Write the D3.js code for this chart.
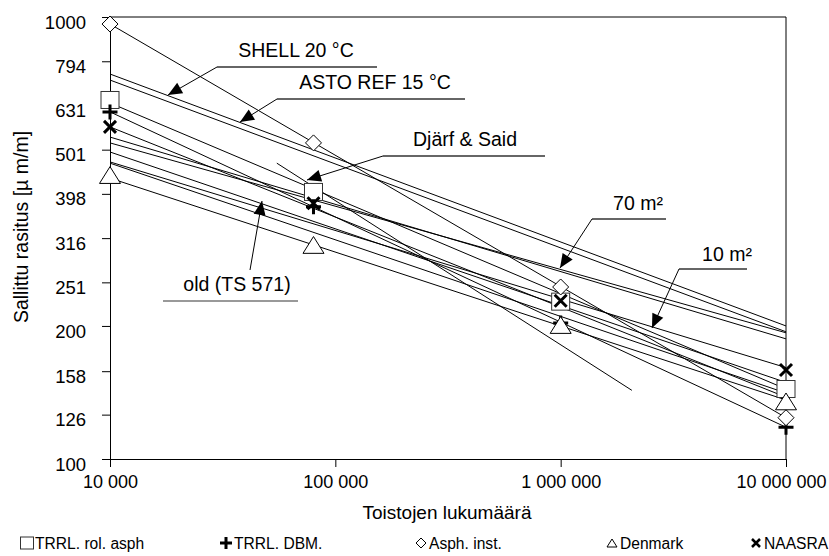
<!DOCTYPE html>
<html>
<head>
<meta charset="utf-8">
<script src="https://cdn.jsdelivr.net/npm/d3@7"></script>
<style>
  body { margin: 0; background: #fff; }
  svg { display: block; font-family: 'Liberation Sans', Arial, sans-serif; }
  .axis text { font-size: 18.5px; fill: #000; }
  .axis path, .axis line { stroke: #000; }
</style>
</head>
<body>
<svg></svg>
<script>
var width = 829;
var height = 556;

// axis ticks
var yTicks = [100, 126, 158, 200, 251, 316, 398, 501, 631, 794, 1000];
var xTicks = [1e4, 1e5, 1e6, 1e7];

// measured points, N = toistojen lukumäärä
var pointN = [10000, 80000, 1000000, 10000000];
var trrlRol = [649, 402, 227, 144];
var trrlDbm = [610, 372, 203, 118];
var asphInst = [964, 519, 245, 124];
var denmark = [439, 305, 201, 135];
var naasra = [564, 379, 228, 159];

// criteria lines [N, strain] start and end
var shell20 = [[1e4, 743], [1e7, 200]];
var astoRef15 = [[1e4, 720], [1e7, 194]];
var m70 = [[1e4, 519], [1e7, 193]];
var lineA = [[1e4, 535], [1e7, 187]];
var m10 = [[1e4, 470], [1e7, 161]];
var oldTs571 = [[1e4, 495], [1e7, 149]];
var lineB = [[1e4, 467], [1e7, 141]];
var fitRol = [[1e4, 639], [1e7, 144]];
var fitDbm = [[1e4, 610], [1e7, 118]];
var fitNaasra = [[1e4, 564], [1e7, 138]];
var fitDenmark = [[1e4, 432], [1e7, 136]];
var fitAsph = [[1e4, 964], [1e7, 124]];
var djarfSaid = [[55000, 467], [2070000, 143]];

var allLines = [shell20, astoRef15, m70, lineA, m10, oldTs571, lineB,
                fitRol, fitDbm, fitNaasra, fitDenmark, fitAsph, djarfSaid];

var plotLeft = 110, plotRight = 786, plotTop = 17, plotBottom = 459;

var svg = d3.select('svg')
            .attr('width', width)
            .attr('height', height);

var xScale = d3.scaleLog().domain([1e4, 1e7]).range([plotLeft, plotRight]);
var yScale = d3.scaleLog().domain([100, 1000]).range([plotBottom, plotTop]);

var fmt = d3.formatLocale({decimal: ',', thousands: ' ', grouping: [3], currency: ['', '']}).format(',');

// frame top and right
svg.append('line')
  .attr('x1', plotLeft).attr('x2', plotRight).attr('y1', plotTop).attr('y2', plotTop)
  .attr('stroke', '#000');
svg.append('line')
  .attr('x1', plotRight).attr('x2', plotRight).attr('y1', plotTop).attr('y2', plotBottom)
  .attr('stroke', '#000');

var yAxis = d3.axisLeft(yScale)
              .tickValues(yTicks)
              .tickFormat(d => d)
              .tickSize(8)
              .tickSizeOuter(0)
              .tickPadding(16);
var xAxis = d3.axisBottom(xScale)
              .tickValues(xTicks)
              .tickFormat(d => fmt(d))
              .tickSize(8)
              .tickSizeOuter(0)
              .tickPadding(8);

svg.append('g')
    .classed('axis', true)
    .attr('transform', `translate(${plotLeft}, 0)`)
    .call(yAxis)
    .selectAll('text').attr('dy', '0.6em');
var xg = svg.append('g')
    .classed('axis', true)
    .attr('transform', `translate(0, ${plotBottom})`)
    .call(xAxis);
// keep the last label inside the window
xg.selectAll('text')
  .style('font-size', '18px')
  .filter(d => d === 1e7)
  .attr('dx', -5);

// lines
var line = d3.line()
             .x(d => xScale(d[0]))
             .y(d => yScale(d[1]));
svg.append('g')
  .selectAll('path')
  .data(allLines)
  .enter()
  .append('path')
    .attr('d', line)
    .attr('fill', 'none')
    .attr('stroke', '#000')
    .attr('stroke-width', 1);

// annotations: text, underline, leader with arrow
var notes = [
  {text: 'SHELL 20 °C', tx: 296, ty: 57, ux1: 217, ux2: 377, uy: 67, lx: 217, ly: 67, ax: 168, ay: 95, ul: '#333'},
  {text: 'ASTO REF 15 °C', tx: 375, ty: 89, ux1: 277, ux2: 465, uy: 99, lx: 277, ly: 99, ax: 240, ay: 122, ul: '#333'},
  {text: 'Djärf & Said', tx: 465, ty: 146, ux1: 383, ux2: 545, uy: 156, lx: 383, ly: 156, ax: 307, ay: 180, ul: '#333'},
  {text: '70 m²', tx: 638, ty: 210, ux1: 592, ux2: 666, uy: 219, lx: 592, ly: 219, ax: 560, ay: 268, ul: '#333'},
  {text: '10 m²', tx: 727, ty: 261, ux1: 679, ux2: 747, uy: 269, lx: 679, ly: 269, ax: 652, ay: 328, ul: '#333'},
  {text: 'old (TS 571)', tx: 237, ty: 291, ux1: 163, ux2: 298, uy: 301, lx: 250, ly: 270, ax: 262, ay: 201, ul: '#777'}
];

var noteG = svg.append('g');
notes.forEach(n => {
  noteG.append('text')
    .attr('x', n.tx).attr('y', n.ty)
    .attr('text-anchor', 'middle')
    .attr('font-size', '19.5px')
    .text(n.text);
  noteG.append('line')
    .attr('x1', n.ux1).attr('x2', n.ux2).attr('y1', n.uy).attr('y2', n.uy)
    .attr('stroke', n.ul).attr('stroke-width', 1.3);
  noteG.append('line')
    .attr('x1', n.lx).attr('y1', n.ly).attr('x2', n.ax).attr('y2', n.ay)
    .attr('stroke', '#000');
  var ang = Math.atan2(n.ay - n.ly, n.ax - n.lx);
  var len = 14, hw = 6;
  var bx = n.ax - len * Math.cos(ang), by = n.ay - len * Math.sin(ang);
  var px = -Math.sin(ang) * hw, py = Math.cos(ang) * hw;
  noteG.append('path')
    .attr('d', `M${n.ax},${n.ay}L${bx + px},${by + py}L${bx - px},${by - py}Z`)
    .attr('fill', '#000');
});

// marker shapes
function drawMarker(g, type, x, y, s) {
  if(type === 'square') {
    g.append('rect')
      .attr('x', x - s / 2).attr('y', y - s / 2 + 0.5)
      .attr('width', s).attr('height', s - 1)
      .attr('fill', '#fff').attr('stroke', '#333').attr('stroke-width', 1);
  } else if(type === 'plus') {
    g.append('path')
      .attr('d', `M${x - s / 2},${y}H${x + s / 2}M${x},${y - s / 2}V${y + s / 2}`)
      .attr('stroke', '#000').attr('stroke-width', s > 10 ? 3 : 2.5);
  } else if(type === 'diamond') {
    g.append('path')
      .attr('d', `M${x},${y - s / 2}L${x + s / 2},${y}L${x},${y + s / 2}L${x - s / 2},${y}Z`)
      .attr('fill', '#fff').attr('stroke', '#000').attr('stroke-width', 1);
  } else if(type === 'triangle') {
    var h = s * 0.8;
    g.append('path')
      .attr('d', `M${x},${y - h / 2}L${x + s / 2},${y + h / 2}L${x - s / 2},${y + h / 2}Z`)
      .attr('fill', '#fff').attr('stroke', '#000').attr('stroke-width', 1);
  } else if(type === 'cross') {
    g.append('path')
      .attr('d', `M${x - s / 2},${y - s / 2}L${x + s / 2},${y + s / 2}M${x - s / 2},${y + s / 2}L${x + s / 2},${y - s / 2}`)
      .attr('stroke', '#000').attr('stroke-width', s > 9 ? 3 : 2.5);
  }
}

var series = [
  {name: 'TRRL. rol. asph', type: 'square', values: trrlRol, size: 18, lx: 27, ls: 13},
  {name: 'TRRL. DBM.', type: 'plus', values: trrlDbm, size: 15, lx: 226, ls: 12},
  {name: 'Asph. inst.', type: 'diamond', values: asphInst, size: 16, lx: 421, ls: 10},
  {name: 'Denmark', type: 'triangle', values: denmark, size: 21, lx: 612, ls: 10},
  {name: 'NAASRA', type: 'cross', values: naasra, size: 12, lx: 756, ls: 8}
];

var markG = svg.append('g');
series.forEach(s => {
  s.values.forEach((v, i) => drawMarker(markG, s.type, xScale(pointN[i]), yScale(v), s.size));
});

// axis titles
svg.append('text')
  .attr('text-anchor', 'middle')
  .attr('font-size', '19.5px')
  .attr('transform', `translate(28, 227) rotate(-90)`)
  .text('Sallittu rasitus [µ m/m]');
svg.append('text')
  .attr('text-anchor', 'middle')
  .attr('font-size', '19px')
  .attr('x', 447)
  .attr('y', 519)
  .text('Toistojen lukumäärä');

// legend
var legG = svg.append('g');
series.forEach(s => {
  drawMarker(legG, s.type, s.lx, 543, s.ls);
  legG.append('text')
    .attr('x', s.lx + 8)
    .attr('y', 549)
    .attr('font-size', '15.6px')
    .text(s.name);
});
</script>
</body>
</html>
